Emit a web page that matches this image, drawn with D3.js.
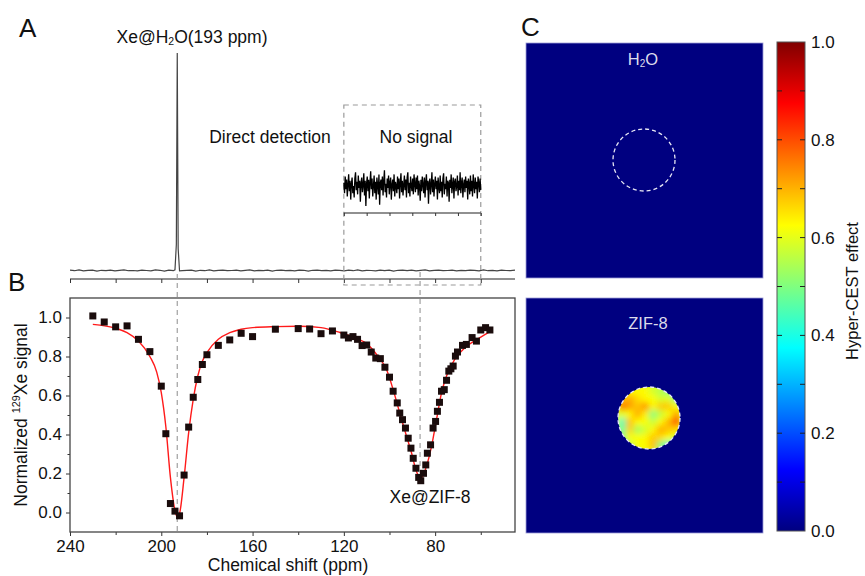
<!DOCTYPE html>
<html>
<head>
<meta charset="utf-8">
<script src="https://cdn.jsdelivr.net/npm/d3@7/dist/d3.min.js"></script>
<style>
    html, body { margin: 0; padding: 0; background: #fff; }
    svg { display: block; font-family: "Liberation Sans", Arial, sans-serif; }
</style>
</head>
<body>
<svg id="fig" width="865" height="576"></svg>
<script>
/* ============================================================
   DATA
   ============================================================ */

// Panel A: direct 129Xe spectrum, baseline wiggle + the Xe@H2O line at 193 ppm
var specBaseNoise = [0.002,-0.001,0.003,-0.002,0.001,0.002,-0.003,0.001,-0.001,0.002,
                     -0.002,0.001,0.003,-0.001,0.000,-0.002,0.002,0.000,-0.002,0.003,
                     0.001,-0.003,0.002,-0.001,0.002,-0.001,0.001,0.002,-0.003,0.001,
                     -0.001,0.003,-0.002,0.001,0.002,-0.001,0.000,0.002,-0.002,0.001,
                     0.003,-0.002,0.001,-0.001,0.002,-0.003,0.001,0.002,-0.001,0.001,
                     -0.002,0.002,0.001,-0.003,0.001,0.002,-0.001,0.001,-0.002,0.002,
                     0.001,-0.002,0.002,-0.001,0.003,-0.002,0.001,0.000,-0.002,0.002,
                     -0.001,0.002,-0.003,0.001,0.002,-0.001,0.002,-0.002,0.001,0.003,
                     -0.002,0.001,0.002,-0.001,0.000,0.002,-0.002,0.001,-0.001,0.002,
                     0.001,-0.002,0.003,-0.001,0.001,-0.002,0.002,0.000,-0.001,0.002];
var specPeak = [[194.0, 0.003], [193.4, 0.12], [193.0, 1.0], [192.6, 0.10], [192.0, -0.002]];

// Panel A inset: the "No signal" window (120 to 60 ppm), noise only
var insetNoise = [0.2,-0.3,0.5,-0.1,0.35,-0.45,0.1,0.6,-0.2,0.3,-0.6,0.15,0.45,-0.3,0.05,-0.5,0.4,0.7,-0.15,0.25,
                  -0.35,0.55,-0.05,0.3,-0.7,0.2,0.45,-0.25,0.1,0.65,-0.4,0.3,-0.9,0.15,0.5,-0.2,0.35,-0.55,0.2,0.75,
                  -0.1,0.4,-0.45,0.05,0.55,-0.3,0.25,-0.6,0.45,0.1,-0.35,0.6,-0.85,0.2,0.35,-0.15,0.5,-0.4,0.3,0.8,
                  -0.25,0.15,-0.5,0.4,-0.05,0.55,-0.35,0.2,0.45,-0.6,0.1,0.35,-0.2,0.6,-0.45,0.25,0.05,-0.3,0.5,-0.1,
                  0.4,-0.55,0.2,0.65,-0.25,0.3,-0.4,0.1,0.55,-0.15,0.35,-0.5,0.45,0.7,-0.3,0.2,-0.45,0.5,0.05,-0.2,
                  0.4,-0.35,0.6,0.15,-0.25,0.45,-0.1,0.55,-0.4,0.3,0.05,-0.65,0.35,-0.2,0.5,0.1,-0.3,0.45,-0.5,0.25,
                  0.6,-0.15,0.3,-0.8,0.2,0.4,-0.35,0.1,0.7,-0.25,0.35,-0.45,0.15,0.5,-0.1,0.3,-0.6,0.45,0.0,-0.3,
                  0.55,-0.2,0.25,-0.5,0.4,0.65,-0.35,0.15,-0.1,0.5,-0.45,0.3,0.2,-0.7,0.35,-0.05,0.6,-0.3,0.1,0.45,
                  -0.55,0.25,0.4,-0.2,0.05,0.55,-0.4,0.3,-0.15,0.7,-0.3,0.2,0.45,-0.5,0.1,0.35,-0.25,0.5,-0.05,0.3,
                  -0.6,0.4,0.15,-0.35,0.55,-0.2,0.3,-0.45,0.6,0.1,-0.3,0.45,-0.1,0.25,-0.55,0.5,0.2,-0.25,0.4,-0.15];

// Panel B: Hyper-CEST z-spectrum, measured points [ppm, normalized signal]
var zPoints = [[230,1.008],[225,0.977],[220,0.952],[215,0.957],[210,0.888],[205,0.825],[200,0.648],
               [198,0.404],[196,0.046],[194,0.007],[192,-0.017],[190,0.192],[188,0.438],[186,0.591],
               [184,0.682],[182,0.759],[180,0.809],[175,0.857],[170,0.885],[165,0.919],[160,0.902],
               [150,0.940],[140,0.943],[135,0.941],[130,0.917],[125,0.931],[120,0.910],[118,0.895],
               [116,0.902],[114,0.888],[112,0.856],[110,0.859],[108,0.823],[106,0.792],[104,0.789],
               [102,0.745],[100,0.694],[98.4,0.622],[96.6,0.562],[95.5,0.510],[94.3,0.476],[93.0,0.433],
               [91.8,0.381],[90.6,0.330],[89.6,0.278],[88.4,0.227],[87.2,0.180],[86.3,0.163],[85.1,0.201],
               [84.1,0.244],[83.4,0.304],[82.0,0.347],[80.9,0.433],[79.8,0.467],[79.0,0.519],[78.1,0.565],
               [77.2,0.622],[76.0,0.630],[75.0,0.678],[74.0,0.725],[73.1,0.737],[72.1,0.751],[71.1,0.802],
               [70.2,0.823],[68.0,0.857],[66.3,0.862],[63.8,0.897],[61.9,0.879],[60.0,0.936],[57.9,0.948],
               [56.0,0.936]];

// Panel B: Lorentzian fit (red line), traced points
var zFit = [[230,0.965],[220,0.945],[215,0.922],[210,0.879],[205,0.800],[202,0.720],[200,0.615],
            [198,0.440],[196,0.180],[194,0.010],[193,-0.023],[192,-0.005],[190,0.180],[188,0.410],
            [186,0.580],[184,0.700],[182,0.776],[180,0.820],[175,0.888],[170,0.922],[165,0.940],
            [160,0.948],[150,0.953],[140,0.955],[130,0.948],[121.7,0.923],[114.4,0.892],[110,0.866],
            [105,0.800],[101.3,0.733],[98.4,0.630],[95.5,0.510],[92.5,0.390],[90.3,0.304],[88.4,0.218],
            [86.7,0.180],[86.0,0.178],[84.0,0.230],[81.6,0.338],[79.4,0.476],[77.2,0.613],[75.0,0.700],
            [71.4,0.785],[67.0,0.845],[62.0,0.885],[56.0,0.928]];

var xTicksMajor = [240, 200, 160, 120, 80];
var xTicksMinor = [220, 180, 140, 100, 60];
var yTicksMajor = [0.0, 0.2, 0.4, 0.6, 0.8, 1.0];
var yTicksMinor = [0.1, 0.3, 0.5, 0.7, 0.9];

// Panel C: Hyper-CEST map of the ZIF-8 phantom (8 x 8 samples over the tube)
var zifMap = [
    [0.60, 0.63, 0.63, 0.63, 0.58, 0.55, 0.50, 0.50],
    [0.68, 0.71, 0.66, 0.63, 0.62, 0.58, 0.60, 0.50],
    [0.77, 0.72, 0.68, 0.74, 0.63, 0.68, 0.68, 0.62],
    [0.60, 0.63, 0.71, 0.64, 0.50, 0.57, 0.62, 0.72],
    [0.44, 0.69, 0.63, 0.62, 0.57, 0.63, 0.70, 0.82],
    [0.47, 0.67, 0.53, 0.58, 0.63, 0.71, 0.68, 0.66],
    [0.50, 0.62, 0.62, 0.63, 0.68, 0.66, 0.62, 0.58],
    [0.50, 0.55, 0.62, 0.63, 0.69, 0.50, 0.42, 0.45]
];
var cbTicks = [0.0, 0.2, 0.4, 0.6, 0.8, 1.0];
var cbMinor = [0.1, 0.3, 0.5, 0.7, 0.9];

// jet colormap stops
var jetStops  = [0, 0.125, 0.375, 0.625, 0.875, 1];
var jetColors = ['#000080', '#0000ff', '#00ffff', '#ffff00', '#ff0000', '#800000'];

/* ============================================================
   SETUP
   ============================================================ */
var svg = d3.select('#fig');
var FS = 17.5;
var jet = d3.scaleLinear().domain(jetStops).range(jetColors).clamp(true);

// shared chemical shift scale (panels A and B line up)
var x = d3.scaleLinear().domain([240, 45]).range([70, 515]);
var yA = d3.scaleLinear().domain([0, 1]).range([270.5, 53]);
var yIn = d3.scaleLinear().domain([-1, 1]).range([208, 166]);
var yB = d3.scaleLinear().domain([-0.1, 1.1]).range([532, 298]);

function panelLetter(txt, px, py) {
    svg.append('text').attr('x', px).attr('y', py)
        .attr('font-size', 26).attr('fill', '#111').text(txt);
}

/* ============================================================
   PANEL A
   ============================================================ */
panelLetter('A', 19, 37);

// spectrum: baseline samples + the peak
var baseIdx = d3.scaleLinear().domain([0, specBaseNoise.length - 1]).range([240, 45]);
var spec = specBaseNoise.map(function(v, i) { return [baseIdx(i), v]; })
    .filter(function(d) { return Math.abs(d[0] - 193) > 1.2; })
    .concat(specPeak)
    .sort(function(a, b) { return b[0] - a[0]; });

var lineA = d3.line()
    .x(function(d) { return x(d[0]); })
    .y(function(d) { return yA(d[1]); });

svg.append('path').datum(spec)
    .attr('fill', 'none').attr('stroke', '#444').attr('stroke-width', 1.2)
    .attr('d', lineA);

// A axis (no labels in the figure)
var axA = svg.append('g').attr('transform', 'translate(0,279)')
    .call(d3.axisBottom(x).tickValues(xTicksMajor.concat(xTicksMinor)).tickSize(4).tickFormat(''));
axA.select('.domain').attr('d', 'M70,0H515').attr('stroke', '#222').attr('stroke-width', 1.2);
axA.selectAll('.tick line').attr('stroke', '#222');

// dashed window around the 120-60 ppm region
svg.append('rect')
    .attr('x', x(120)).attr('y', 105)
    .attr('width', x(60) - x(120)).attr('height', 180)
    .attr('fill', 'none').attr('stroke', '#9a9a9a').attr('stroke-width', 1.2)
    .attr('stroke-dasharray', '5,4');

// inset noise trace
var inIdx = d3.scaleLinear().domain([0, insetNoise.length - 1]).range([120, 60]);
var lineIn = d3.line()
    .x(function(d, i) { return x(inIdx(i)); })
    .y(function(d) { return yIn(d); });
svg.append('path').datum(insetNoise)
    .attr('fill', 'none').attr('stroke', '#000').attr('stroke-width', 1.3)
    .attr('d', lineIn);

var axIn = svg.append('g').attr('transform', 'translate(0,213)')
    .call(d3.axisBottom(x).tickValues([120, 110, 100, 90, 80, 70, 60]).tickSize(3).tickFormat(''));
axIn.select('.domain').attr('d', 'M' + x(120) + ',0H' + x(60)).attr('stroke', '#222').attr('stroke-width', 1.2);
axIn.selectAll('.tick line').attr('stroke', '#222');

// labels
var t1 = svg.append('text').attr('x', 192).attr('y', 43).attr('text-anchor', 'middle')
    .attr('font-size', FS).attr('fill', '#111');
t1.append('tspan').text('Xe@H');
t1.append('tspan').attr('font-size', FS * 0.6).attr('dy', 2).text('2');
t1.append('tspan').attr('dy', -2).text('O(193 ppm)');

svg.append('text').attr('x', 270).attr('y', 143).attr('text-anchor', 'middle')
    .attr('font-size', FS).attr('fill', '#111').text('Direct detection');
svg.append('text').attr('x', 416).attr('y', 143).attr('text-anchor', 'middle')
    .attr('font-size', FS).attr('fill', '#111').text('No signal');

/* ============================================================
   PANEL B
   ============================================================ */
panelLetter('B', 8, 291);

// guide lines linking the two panels
svg.append('line')
    .attr('x1', x(193)).attr('x2', x(193)).attr('y1', 274).attr('y2', yB(-0.1))
    .attr('stroke', '#a0a0a0').attr('stroke-width', 1.2).attr('stroke-dasharray', '5,4');
svg.append('line')
    .attr('x1', x(86.6)).attr('x2', x(86.6)).attr('y1', 272).attr('y2', yB(0.2))
    .attr('stroke', '#a0a0a0').attr('stroke-width', 1.2).attr('stroke-dasharray', '5,4');

// axes
var axBx = svg.append('g').attr('transform', 'translate(0,532)')
    .call(d3.axisBottom(x).tickValues(xTicksMajor).tickSize(4).tickPadding(4));
svg.append('g').attr('transform', 'translate(0,532)')
    .call(d3.axisBottom(x).tickValues(xTicksMinor).tickSize(3).tickFormat(''))
    .select('.domain').remove();
var axBy = svg.append('g').attr('transform', 'translate(70,0)')
    .call(d3.axisLeft(yB).tickValues(yTicksMajor).tickSize(4).tickPadding(4).tickFormat(d3.format('.1f')));
svg.append('g').attr('transform', 'translate(70,0)')
    .call(d3.axisLeft(yB).tickValues(yTicksMinor).tickSize(2.5).tickFormat(''))
    .select('.domain').remove();
svg.selectAll('.tick text').attr('font-size', 17).attr('fill', '#111')
    .attr('font-family', '"Liberation Sans", Arial, sans-serif');
svg.selectAll('.tick line').attr('stroke', '#333');
axBx.select('.domain').remove();
axBy.select('.domain').remove();

// frame
svg.append('rect')
    .attr('x', 70).attr('y', 298).attr('width', 445).attr('height', 234)
    .attr('fill', 'none').attr('stroke', '#444').attr('stroke-width', 1.3);

// fit line
var lineB = d3.line()
    .x(function(d) { return x(d[0]); })
    .y(function(d) { return yB(d[1]); })
    .curve(d3.curveMonotoneX);
svg.append('path').datum(zFit)
    .attr('fill', 'none').attr('stroke', '#ff1a1a').attr('stroke-width', 1.4)
    .attr('d', lineB);

// squares
svg.append('g').selectAll('rect').data(zPoints).enter().append('rect')
    .attr('x', function(d) { return x(d[0]) - 3.5; })
    .attr('y', function(d) { return yB(d[1]) - 3.5; })
    .attr('width', 7).attr('height', 7)
    .attr('fill', '#1a0c0c');

svg.append('text').attr('x', 430).attr('y', 503).attr('text-anchor', 'middle')
    .attr('font-size', FS).attr('fill', '#111').text('Xe@ZIF-8');

// axis titles
svg.append('text').attr('x', 288).attr('y', 571).attr('text-anchor', 'middle')
    .attr('font-size', FS).attr('fill', '#111').text('Chemical shift (ppm)');
var yt = svg.append('text').attr('transform', 'translate(27,415) rotate(-90)')
    .attr('text-anchor', 'middle').attr('font-size', FS).attr('fill', '#111');
yt.append('tspan').text('Normalized ');
yt.append('tspan').attr('font-size', FS * 0.62).attr('dy', -7).text('129');
yt.append('tspan').attr('dy', 7).text('Xe signal');

/* ============================================================
   PANEL C
   ============================================================ */
panelLetter('C', 521, 36);

var defs = svg.append('defs');
defs.append('filter').attr('id', 'soft')
    .attr('x', '-20%').attr('y', '-20%').attr('width', '140%').attr('height', '140%')
    .append('feGaussianBlur').attr('stdDeviation', 3);

function mapTile(y0, cx, cy, r, values) {
    var g = svg.append('g');
    g.append('rect').attr('x', 526).attr('y', y0).attr('width', 237).attr('height', 235)
        .attr('fill', jet(0)).attr('stroke', '#9c9cd6').attr('stroke-width', 0.8);

    if (values) {
        var clipId = 'clip' + y0;
        defs.append('clipPath').attr('id', clipId)
            .append('circle').attr('cx', cx).attr('cy', cy).attr('r', r);
        var n = values.length;
        var cell = d3.scaleLinear().domain([0, n]).range([-r, r]);
        var cg = g.append('g').attr('clip-path', 'url(#' + clipId + ')')
            .append('g').attr('filter', 'url(#soft)');
        cg.append('rect').attr('x', cx - r - 8).attr('y', cy - r - 8)
            .attr('width', 2 * r + 16).attr('height', 2 * r + 16).attr('fill', jet(0.6));
        values.forEach(function(row, ri) {
            row.forEach(function(v, ci) {
                cg.append('rect')
                    .attr('x', cx + cell(ci)).attr('y', cy + cell(ri))
                    .attr('width', cell(1) - cell(0) + 0.5).attr('height', cell(1) - cell(0) + 0.5)
                    .attr('fill', jet(v));
            });
        });
    }

    g.append('circle').attr('cx', cx).attr('cy', cy).attr('r', r)
        .attr('fill', 'none').attr('stroke', '#e8e8f4').attr('stroke-width', 1.3)
        .attr('stroke-dasharray', '4,3');

    return g;
}

mapTile(43, 644, 160, 31, null);
mapTile(298, 649, 418, 31, zifMap);

var h2o = svg.append('text').attr('x', 643).attr('y', 65).attr('text-anchor', 'middle')
    .attr('font-size', 16.5).attr('fill', '#dcdcec');
h2o.append('tspan').text('H');
h2o.append('tspan').attr('font-size', 10).attr('dy', 2).text('2');
h2o.append('tspan').attr('dy', -2).text('O');
svg.append('text').attr('x', 648).attr('y', 329).attr('text-anchor', 'middle')
    .attr('font-size', 16.5).attr('fill', '#dcdcec').text('ZIF-8');

// colorbar
var cbY = d3.scaleLinear().domain([0, 1]).range([531, 42]);
var grad = defs.append('linearGradient').attr('id', 'jetGrad')
    .attr('x1', 0).attr('y1', 1).attr('x2', 0).attr('y2', 0);
jetStops.forEach(function(s, i) {
    grad.append('stop').attr('offset', s).attr('stop-color', jetColors[i]);
});
svg.append('rect').attr('x', 777).attr('y', cbY(1)).attr('width', 28).attr('height', cbY(0) - cbY(1))
    .attr('fill', 'url(#jetGrad)').attr('stroke', '#555').attr('stroke-width', 1);

var cbAll = cbTicks.concat(cbMinor).filter(function(v) { return v > 0 && v < 1; });
svg.append('g').selectAll('line.l').data(cbAll).enter().append('line')
    .attr('x1', 777).attr('x2', 782)
    .attr('y1', function(d) { return cbY(d); }).attr('y2', function(d) { return cbY(d); })
    .attr('stroke', '#222').attr('stroke-width', 1);
svg.append('g').selectAll('line.r').data(cbAll).enter().append('line')
    .attr('x1', 800).attr('x2', 805)
    .attr('y1', function(d) { return cbY(d); }).attr('y2', function(d) { return cbY(d); })
    .attr('stroke', '#222').attr('stroke-width', 1);
svg.append('g').selectAll('text').data(cbTicks).enter().append('text')
    .attr('x', 811).attr('y', function(d) { return cbY(d) + 6; })
    .attr('font-size', 17).attr('fill', '#111')
    .text(function(d) { return d3.format('.1f')(d); });

svg.append('text').attr('transform', 'translate(858,291) rotate(-90)')
    .attr('text-anchor', 'middle').attr('font-size', 16.5).attr('fill', '#111')
    .text('Hyper-CEST effect');
</script>
</body>
</html>
